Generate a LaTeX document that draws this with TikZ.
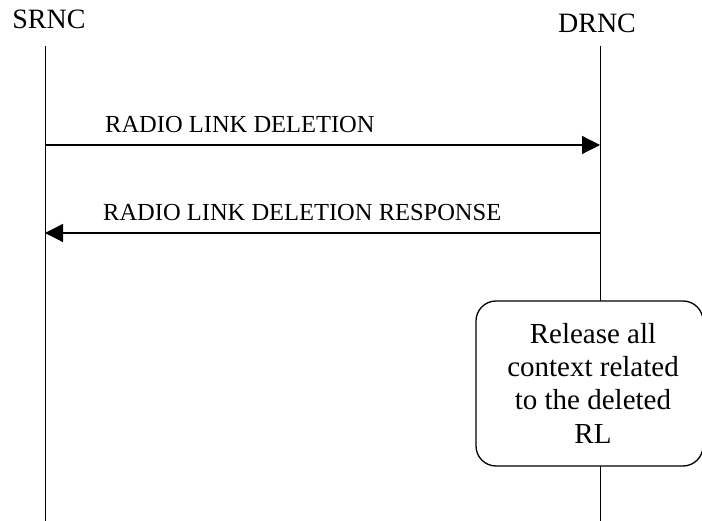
\documentclass[tikz,border=0pt]{standalone}
\usepackage{fontspec}
\setmainfont{Liberation Serif}
\usetikzlibrary{arrows.meta}
\begin{document}
\begin{tikzpicture}[x=1pt,y=-1pt,
  life/.style={line width=1pt},
  msg/.style={line width=1.2pt,-{Triangle[length=18pt,width=18pt]}},
  entity/.style={inner sep=0pt,anchor=base,font=\fontsize{28}{32}\selectfont},
  msglabel/.style={inner sep=0pt,anchor=base west,font=\fontsize{24.5}{28}\selectfont},
  procbox/.style={draw,line width=1.3pt,rounded corners=20pt,fill=white,
    minimum width=227pt,minimum height=165pt,inner sep=0pt},
  proctext/.style={inner sep=0pt,align=center,font=\fontsize{29}{33.3}\selectfont}]
  \useasboundingbox (0,0) rectangle (702,521);

  % entity names
  \node[entity] (srnc) at (49,29) {SRNC};
  \node[entity] (drnc) at (597,33) {DRNC};

  % lifelines
  \coordinate (stop) at (45,46);
  \coordinate (sbot) at (45,521);
  \coordinate (dtop) at (600,46);
  \coordinate (dbot) at (600,521);
  \draw[life] (stop) -- (sbot);
  \draw[life] (dtop) -- (dbot);

  % RADIO LINK DELETION
  \coordinate (s1) at (45,145);
  \coordinate (d1) at (600,145);
  \draw[msg] (s1) -- (d1);
  \node[msglabel] (m1) at (105,133) {RADIO LINK DELETION};

  % RADIO LINK DELETION RESPONSE
  \coordinate (s2) at (45,233);
  \coordinate (d2) at (600,233);
  \draw[msg] (d2) -- (s2);
  \node[msglabel] (m2) at (103,221) {RADIO LINK DELETION RESPONSE};

  % local action at the DRNC
  \node[procbox] (relbox) at (589.5,383.5) {};
  \node[proctext] (rel) at (593,383) {Release all\\context related\\to the deleted\\RL};
\end{tikzpicture}
\end{document}
